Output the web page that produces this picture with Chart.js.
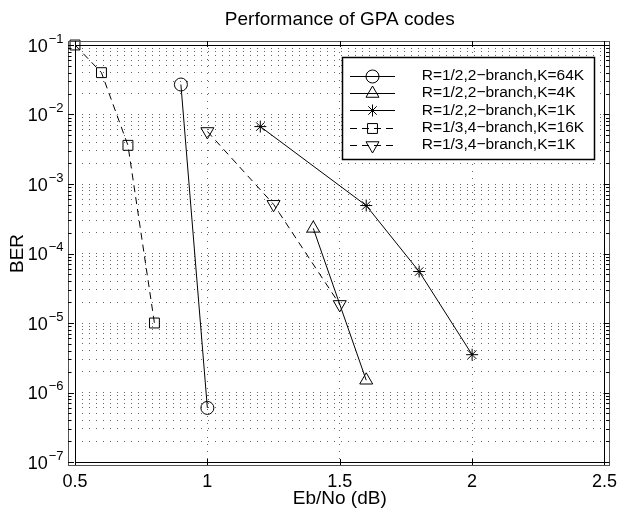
<!DOCTYPE html>
<html><head><meta charset="utf-8">
<script src="https://cdn.jsdelivr.net/npm/chart.js@4.4.1/dist/chart.umd.min.js"></script>
<style>html,body{margin:0;padding:0;background:#fff;}#wrap{width:626px;height:514px;}</style>
</head><body><div id="wrap"><canvas id="c" width="626" height="514"></canvas></div>
<script>
// ---- data ----
const xTickValues = [0.5, 1, 1.5, 2, 2.5];
const yDecadeExponents = [-1, -2, -3, -4, -5, -6, -7];
const seriesLabels = [
  'R=1/2,2\u2212branch,K=64K',
  'R=1/2,2\u2212branch,K=4K',
  'R=1/2,2\u2212branch,K=1K',
  'R=1/3,4\u2212branch,K=16K',
  'R=1/3,4\u2212branch,K=1K'
];
const ebnoHalf64K = [0.9, 1.0];
const berHalf64K  = [2.7e-2, 6e-7];
const ebnoHalf4K  = [1.4, 1.6];
const berHalf4K   = [2.3e-4, 1.5e-6];
const ebnoHalf1K  = [1.2, 1.6, 1.8, 2.0];
const berHalf1K   = [6.7e-3, 4.9e-4, 5.5e-5, 3.5e-6];
const ebnoThird16K = [0.5, 0.6, 0.7, 0.8];
const berThird16K  = [1e-1, 4e-2, 3.6e-3, 1e-5];
const ebnoThird1K  = [1.0, 1.25, 1.5];
const berThird1K   = [5.7e-3, 5.1e-4, 1.85e-5];

const FONT = '"Liberation Sans", Arial, Helvetica, sans-serif';
const pts = (xs, ys) => xs.map((x, i) => ({x: x, y: ys[i]}));

const styles = [
  {pointStyle: 'circle',   r: 6.5, rot: 0,   dash: []},
  {pointStyle: 'triangle', r: 7.5, rot: 0,   dash: []},
  {pointStyle: 'star',     r: 6,   rot: 0,   dash: []},
  {pointStyle: 'rect',     r: 7,   rot: 0,   dash: [7, 5]},
  {pointStyle: 'triangle', r: 7.5, rot: 180, dash: [7, 5]}
];
const seriesData = [
  pts(ebnoHalf64K, berHalf64K),
  pts(ebnoHalf4K, berHalf4K),
  pts(ebnoHalf1K, berHalf1K),
  pts(ebnoThird16K, berThird16K),
  pts(ebnoThird1K, berThird1K)
];

const datasets = seriesData.map((d, i) => ({
  label: seriesLabels[i],
  data: d,
  borderColor: '#000',
  borderWidth: 1,
  borderDash: styles[i].dash,
  pointStyle: styles[i].pointStyle,
  pointRadius: styles[i].r,
  pointHoverRadius: styles[i].r,
  pointRotation: styles[i].rot,
  pointBorderColor: '#000',
  pointBackgroundColor: 'rgba(0,0,0,0)',
  pointBorderWidth: 1,
  tension: 0,
  fill: false,
  clip: false
}));

const yGridValues = [];
for (let k = -7; k <= -2; k++) for (let m = 1; m <= 9; m++) yGridValues.push(m * Math.pow(10, k));
yGridValues.push(0.1);

const decorPlugin = {
  id: 'decor',
  afterDraw(chart) {
    const ctx = chart.ctx, ca = chart.chartArea;
    const xs = chart.scales.x, ys = chart.scales.y;
    ctx.save();
    // outer frame
    const oL = ca.left - 7, oT = ca.top - 4, oR = ca.right + 5, oB = ca.bottom + 3;
    ctx.strokeStyle = '#555'; ctx.lineWidth = 1; ctx.setLineDash([]);
    ctx.strokeRect(Math.round(oL) + 0.5, Math.round(oT) + 0.5, Math.round(oR - oL), Math.round(oB - oT));
    // inner frame
    ctx.strokeStyle = '#000';
    ctx.strokeRect(Math.round(ca.left) + 0.5, Math.round(ca.top) + 0.5, Math.round(ca.right - ca.left), Math.round(ca.bottom - ca.top));
    // tick marks
    ctx.beginPath();
    yGridValues.forEach(v => {
      const y = Math.round(ys.getPixelForValue(v)) + 0.5;
      const major = Math.abs(Math.log10(v) - Math.round(Math.log10(v))) < 1e-6;
      const len = major ? 6 : 3.5;
      ctx.moveTo(oL, y); ctx.lineTo(oL + len, y);
      ctx.moveTo(oR, y); ctx.lineTo(oR - len, y);
    });
    xTickValues.forEach(v => {
      const x = Math.round(xs.getPixelForValue(v)) + 0.5;
      ctx.moveTo(x, oB); ctx.lineTo(x, oB - 6);
      ctx.moveTo(x, oT); ctx.lineTo(x, oT + 6);
    });
    ctx.stroke();
    // y tick labels 10^k
    ctx.fillStyle = '#000';
    yDecadeExponents.forEach(k => {
      const y = ys.getPixelForValue(Math.pow(10, k));
      const sup = '\u2212' + Math.abs(k);
      ctx.font = '13px ' + FONT;
      ctx.textAlign = 'right'; ctx.textBaseline = 'alphabetic';
      const supRight = 63.5;
      const sw = ctx.measureText(sup).width;
      ctx.fillText(sup, supRight, y - 2.5);
      ctx.font = '18px ' + FONT;
      ctx.fillText('10', supRight - sw - 1, y + 6.5);
    });
    // legend
    const bx = 342, by = 57, bw = 252, bh = 102;
    ctx.fillStyle = '#fff';
    ctx.fillRect(bx, by, bw, bh);
    ctx.strokeStyle = '#000'; ctx.lineWidth = 1.5;
    ctx.strokeRect(bx + 0.5, by + 0.5, bw, bh);
    ctx.lineWidth = 1;
    chart.data.datasets.forEach((ds, i) => {
      const y = 75.7 + i * 17.3;
      const yl = Math.round(y) + 0.5;
      ctx.strokeStyle = '#000';
      ctx.setLineDash(ds.borderDash || []);
      ctx.beginPath(); ctx.moveTo(350, yl); ctx.lineTo(395, yl); ctx.stroke();
      ctx.setLineDash([]);
      ctx.fillStyle = 'rgba(0,0,0,0)';
      Chart.helpers.drawPoint(ctx, {pointStyle: ds.pointStyle, radius: ds.pointRadius, rotation: ds.pointRotation, borderWidth: 1}, 372.5, yl);
      ctx.fillStyle = '#000';
      ctx.font = '15.5px ' + FONT;
      ctx.textAlign = 'left'; ctx.textBaseline = 'middle';
      ctx.fillText(ds.label, 421.7, y);
    });
    ctx.restore();
  }
};

new Chart(document.getElementById('c'), {
  type: 'line',
  data: {datasets: datasets},
  options: {
    responsive: false,
    animation: false,
    devicePixelRatio: 1,
    layout: {padding: {left: 0, right: 19, top: 0, bottom: 0}},
    plugins: {
      legend: {display: false},
      tooltip: {enabled: false},
      title: {
        display: true, text: 'Performance of GPA codes', fullSize: false,
        color: '#000', font: {family: FONT, size: 19, weight: 'normal', lineHeight: 1.2},
        padding: {top: 8, bottom: 14.2}
      }
    },
    scales: {
      x: {
        type: 'linear', min: 0.5, max: 2.5,
        afterBuildTicks: s => { s.ticks = xTickValues.map(v => ({value: v})); },
        afterFit: s => { s.height = 52; },
        ticks: {color: '#000', font: {family: FONT, size: 18}, padding: 9, maxRotation: 0, autoSkip: false,
                callback: v => String(v)},
        grid: {color: '#666', lineWidth: 1, drawTicks: false},
        border: {display: false, dash: [1, 6]},
        title: {display: true, text: 'Eb/No (dB)', color: '#000', font: {family: FONT, size: 19, lineHeight: 1.2}, padding: {top: 0, bottom: 4}}
      },
      y: {
        type: 'logarithmic', min: 1e-7, max: 1e-1,
        afterBuildTicks: s => { s.ticks = yGridValues.map(v => ({value: v})); },
        afterFit: s => { s.width = 75; },
        ticks: {display: false},
        grid: {color: '#666', lineWidth: 1, drawTicks: false},
        border: {display: false, dash: [1, 6]},
        title: {display: true, text: 'BER', color: '#000', font: {family: FONT, size: 19, lineHeight: 1.2}, padding: {top: 6, bottom: 0}}
      }
    }
  },
  plugins: [decorPlugin]
});
</script></body></html>
